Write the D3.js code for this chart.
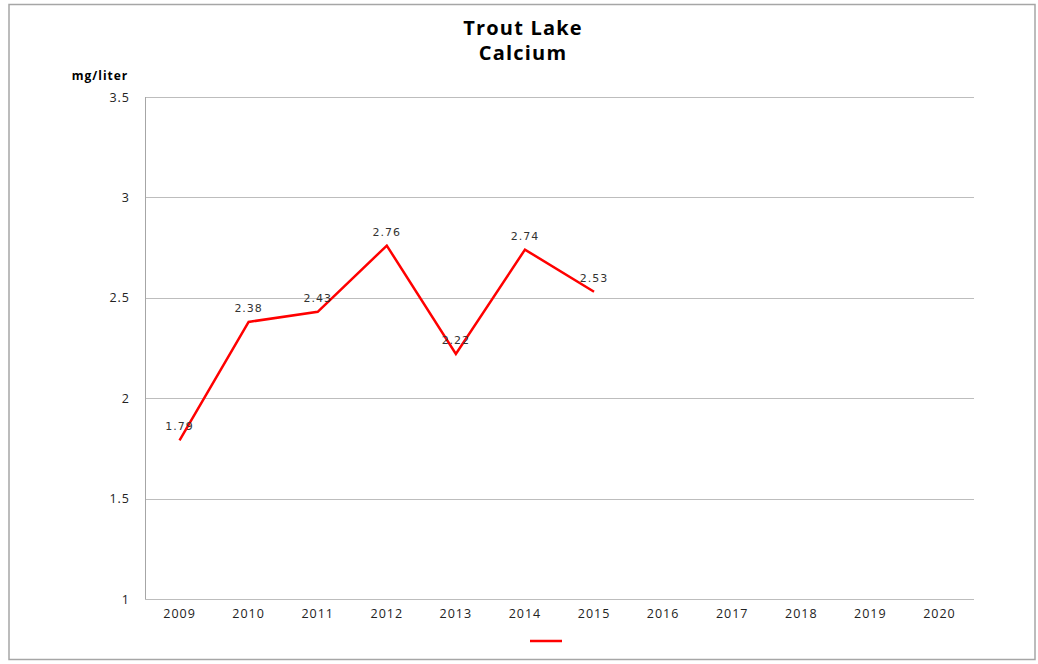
<!DOCTYPE html>
<html>
<head>
<meta charset="utf-8">
<script src="https://cdn.jsdelivr.net/npm/d3@7"></script>
<style>
  body{margin:0;background:#fff;}
  svg{display:block;}
</style>
</head>
<body>
<div id="chart"></div>
<script>
const years=['2009','2010','2011','2012','2013','2014','2015','2016','2017','2018','2019','2020'];
const calcium=[1.79,2.38,2.43,2.76,2.22,2.74,2.53];
const yTicks=[1,1.5,2,2.5,3,3.5];
const titleLines=['Trout Lake','Calcium'];

const W=1038,H=664,m={t:97,r:64,b:65,l:145};
const w=W-m.l-m.r,h=H-m.t-m.b;
const svg=d3.select('#chart').append('svg').attr('width',W).attr('height',H);
// outer frame
svg.append('rect').attr('x',9).attr('y',4.5).attr('width',1026).attr('height',655)
  .attr('fill','#fff').attr('stroke','#a6a6a6').attr('stroke-width',1.5);

const g=svg.append('g').attr('transform',`translate(${m.l},${m.t})`);
const x=d3.scaleBand().domain(years).range([0,w]);
const y=d3.scaleLinear().domain([1,3.5]).range([h,0]);

// grid
g.append('g').selectAll('line').data(yTicks).join('line')
  .attr('x1',0).attr('x2',w).attr('y1',d=>Math.round(y(d))+.5).attr('y2',d=>Math.round(y(d))+.5)
  .attr('stroke','#bdbdbd').attr('stroke-width',1);
g.append('line').attr('x1',.5).attr('x2',.5).attr('y1',0).attr('y2',h).attr('stroke','#a6a6a6');

// axes
const ya=g.append('g').call(d3.axisLeft(y).tickValues(yTicks).tickSize(0).tickPadding(15).tickFormat(d=>String(d)));
ya.select('.domain').remove();
ya.selectAll('text').attr('font-family','"Open Sans",sans-serif').attr('font-size',12.5).attr('letter-spacing',1).attr('fill','#222');
const xa=g.append('g').attr('transform',`translate(0,${h})`).call(d3.axisBottom(x).tickSize(0).tickPadding(10));
xa.select('.domain').remove();
xa.selectAll('text').attr('font-family','"Open Sans",sans-serif').attr('font-size',12.5).attr('letter-spacing',1).attr('fill','#222');

// line
const pts=calcium.map((v,i)=>({year:years[i],v}));
const cx=d=>x(d.year)+x.bandwidth()/2;
g.append('path').datum(pts).attr('fill','none').attr('stroke','#ff0000').attr('stroke-width',2.5)
  .attr('stroke-linejoin','miter').attr('d',d3.line().x(cx).y(d=>y(d.v)));
g.selectAll('.lbl').data(pts).join('text').attr('class','lbl')
  .attr('x',cx).attr('y',d=>y(d.v)-10).attr('text-anchor','middle')
  .attr('font-family','"DejaVu Sans",sans-serif').attr('font-size',11).attr('letter-spacing',1).attr('fill','#333')
  .text(d=>d.v.toFixed(2));

// title
svg.append('g').selectAll('text').data(titleLines).join('text')
  .attr('x',523).attr('y',(d,i)=>35+i*25).attr('text-anchor','middle')
  .attr('font-family','"Open Sans",sans-serif').attr('font-weight','bold').attr('font-size',20).attr('letter-spacing',1.2).attr('fill','#000')
  .text(d=>d);
svg.append('text').attr('x',100).attr('y',80).attr('text-anchor','middle')
  .attr('font-family','"Open Sans",sans-serif').attr('font-weight','bold').attr('font-size',12).attr('letter-spacing',1).attr('fill','#000')
  .text('mg/liter');

// legend
svg.append('line').attr('x1',530).attr('x2',562).attr('y1',641).attr('y2',641)
  .attr('stroke','#ff0000').attr('stroke-width',2.5);
</script>
</body>
</html>
